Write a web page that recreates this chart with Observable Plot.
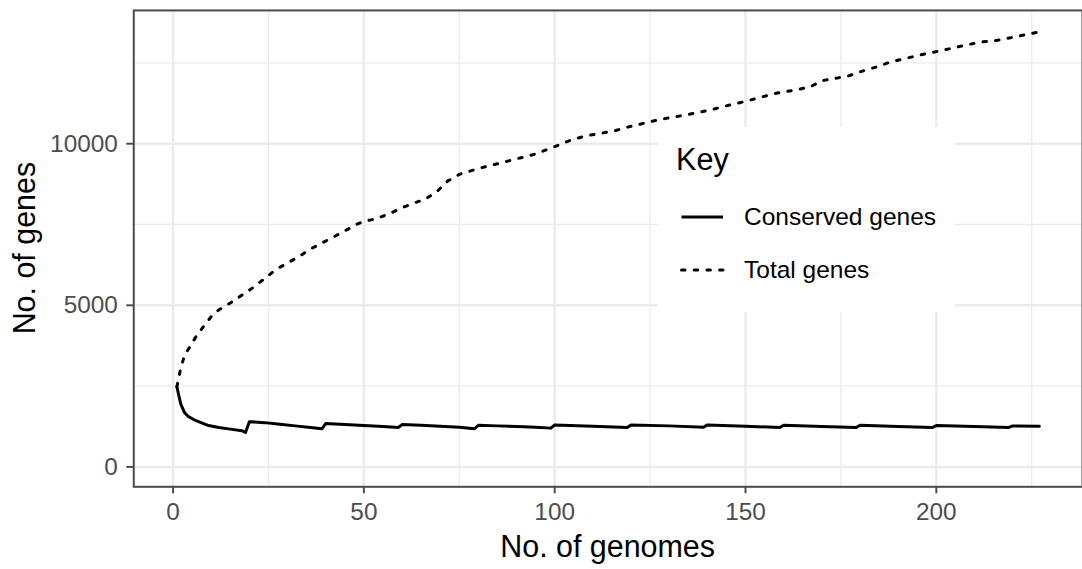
<!DOCTYPE html>
<html>
<head>
<meta charset="utf-8">
<script src="https://cdn.jsdelivr.net/npm/d3@7"></script>
<script src="https://cdn.jsdelivr.net/npm/@observablehq/plot@0.6"></script>
<style>
  html, body { margin: 0; padding: 0; background: #fff; }
  #wrap { position: relative; width: 1082px; height: 569px; overflow: hidden; font-family: "Liberation Sans", Arial, Helvetica, sans-serif; }
  #legend { position: absolute; background: #fff; }
  #legend .t { position: absolute; white-space: nowrap; color: #000; }
</style>
</head>
<body>
<div id="wrap"></div>
<script>
// ---- data ----
const genomesConserved = [1,2,3,4,6,9,12,15,18,19,20,24,28,32,36,39,40,45,50,55,59,60,65,70,75,79,80,85,90,95,99,100,110,119,120,130,139,140,150,159,160,170,179,180,190,199,200,210,219,220,227];
const conservedGenes   = [2480,1950,1680,1560,1430,1290,1220,1170,1120,1070,1400,1370,1320,1270,1220,1180,1340,1310,1280,1250,1220,1310,1290,1260,1230,1180,1290,1270,1250,1230,1200,1300,1260,1220,1300,1270,1230,1300,1260,1220,1290,1250,1220,1290,1250,1220,1280,1250,1220,1270,1260];

const genomesTotal = [1,2,3,4,6,8,10,12,15,18,21,24,27,30,33,36,39,42,45,48,50,53,57,60,63,66,69,72,75,80,85,90,95,100,104,108,112,116,120,124,128,132,137,141,146,150,154,158,163,167,170,174,177,181,185,188,192,196,200,204,208,212,216,220,224,227];
const totalGenes   = [2480,3050,3450,3640,4030,4350,4650,4860,5070,5310,5550,5830,6110,6310,6510,6740,6930,7110,7300,7500,7600,7670,7850,8020,8160,8280,8500,8850,9050,9230,9380,9530,9680,9910,10100,10240,10320,10410,10540,10650,10760,10840,10950,11050,11200,11310,11440,11560,11660,11760,11950,12030,12100,12260,12400,12530,12640,12750,12850,12950,13060,13150,13200,13290,13390,13460];

const xTicks = [0, 50, 100, 150, 200];
const xMinor = [25, 75, 125, 175, 225];
const yTicks = [0, 5000, 10000];
const yMinor = [2500, 7500, 12500];

const seriesNames = ["Conserved genes", "Total genes"];
const legendTitle = "Key";
const xTitle = "No. of genomes";
const yTitle = "No. of genes";

// ---- tables ----
const conservedData = genomesConserved.map((g, i) => ({g, v: conservedGenes[i]}));
const totalData = genomesTotal.map((g, i) => ({g, v: totalGenes[i]}));

const FONT = '"Liberation Sans", Arial, Helvetica, sans-serif';
const W = 1088, H = 569;
const mL = 134, mR = 0, mT = 10, mB = 80;
const dash = "3.5,9.2";
const plain = d => String(d);

const plot = Plot.plot({
  width: W, height: H,
  marginLeft: mL, marginRight: mR, marginTop: mT, marginBottom: mB,
  style: {fontFamily: FONT, background: "#fff", overflow: "visible"},
  x: {domain: [-10.3, 238.3]},
  y: {domain: [-615, 14123]},
  marks: [
    Plot.gridX(xMinor, {stroke: "#EBEBEB", strokeOpacity: 1, strokeWidth: 1.3}),
    Plot.gridY(yMinor, {stroke: "#EBEBEB", strokeOpacity: 1, strokeWidth: 1.3}),
    Plot.gridX(xTicks, {stroke: "#EBEBEB", strokeOpacity: 1, strokeWidth: 2.5}),
    Plot.gridY(yTicks, {stroke: "#EBEBEB", strokeOpacity: 1, strokeWidth: 2.5}),
    Plot.line(totalData, {x: "g", y: "v", stroke: "#000", strokeWidth: 3, strokeDasharray: dash, strokeLinecap: "round"}),
    Plot.line(conservedData, {x: "g", y: "v", stroke: "#000", strokeWidth: 3, strokeLinejoin: "round", strokeLinecap: "round"}),
    Plot.frame({stroke: "#4a4a4a", strokeWidth: 2}),
    Plot.axisX(xTicks, {tickSize: 7, tickPadding: 9, fontSize: 24.5, color: "#4d4d4d", strokeWidth: 2, label: null, tickFormat: plain}),
    Plot.axisY(yTicks, {tickSize: 7, tickPadding: 9, fontSize: 24.5, color: "#4d4d4d", strokeWidth: 2, label: null, tickFormat: plain})
  ]
});

document.getElementById("wrap").appendChild(plot);

// axis titles from scale ranges
const svg = d3.select(plot);
const xr = plot.scale("x").range;
const yr = plot.scale("y").range;
const cx = (xr[0] + xr[1]) / 2;
const cy = (yr[0] + yr[1]) / 2;
svg.append("text")
  .attr("x", cx).attr("y", 560)
  .attr("text-anchor", "middle")
  .attr("font-size", 30.6).attr("font-family", FONT).attr("fill", "#000")
  .text(xTitle);
svg.append("text")
  .attr("transform", `translate(35,${cy}) rotate(-90)`)
  .attr("text-anchor", "middle")
  .attr("font-size", 30.6).attr("font-family", FONT).attr("fill", "#000")
  .text(yTitle);

// legend (inside panel, top-right area)
const wrap = document.getElementById("wrap");
const leg = document.createElement("div");
leg.id = "legend";
leg.style.left = "658px"; leg.style.top = "127px";
leg.style.width = "297px"; leg.style.height = "185px";
wrap.appendChild(leg);

function addText(txt, left, baseline, size) {
  const d = document.createElement("div");
  d.className = "t";
  d.textContent = txt;
  d.style.left = left + "px";
  d.style.fontSize = size + "px";
  d.style.lineHeight = size + "px";
  d.style.top = (baseline - 0.86 * size) + "px";
  leg.appendChild(d);
}
addText(legendTitle, 676 - 658, 170 - 127, 30.6);
const keyY = [217 - 127, 270 - 127];
seriesNames.forEach((name, i) => {
  const s = document.createElementNS("http://www.w3.org/2000/svg", "svg");
  s.setAttribute("width", 50); s.setAttribute("height", 10);
  s.style.position = "absolute";
  s.style.left = (678 - 658) + "px";
  s.style.top = (keyY[i] - 5) + "px";
  const l = document.createElementNS("http://www.w3.org/2000/svg", "line");
  l.setAttribute("x1", 3.5); l.setAttribute("x2", 45);
  l.setAttribute("y1", 5); l.setAttribute("y2", 5);
  l.setAttribute("stroke", "#000"); l.setAttribute("stroke-width", 3);
  l.setAttribute("stroke-linecap", i === 1 ? "round" : "butt");
  if (i === 1) l.setAttribute("stroke-dasharray", dash);
  s.appendChild(l);
  leg.appendChild(s);
  addText(name, 744 - 658, keyY[i] + 9.5, 24.5);
});
</script>
</body>
</html>
